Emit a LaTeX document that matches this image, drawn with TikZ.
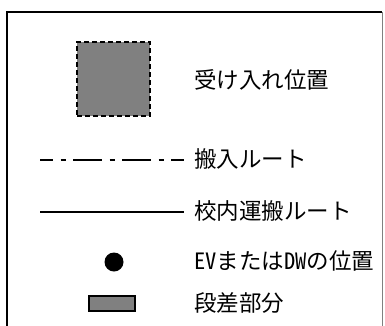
\documentclass[tikz,border=0pt]{standalone}
\usepackage{fontspec}
\setmainfont{Noto Sans CJK JP}
\usetikzlibrary{positioning}
\definecolor{boxgray}{RGB}{128,128,128}

\begin{document}
\begin{tikzpicture}[x=1pt, y=-1pt, lbl node/.style={anchor=west,inner sep=0,font=\fontsize{22.5}{26}\selectfont\addfontfeature{RawFeature=+hwid}}, sym node/.style={draw=black,line width=1.2pt,fill=boxgray,inner sep=0}, route in/.style={line width=1.2pt,dash pattern=on 29pt off 7.5pt on 5pt off 7.5pt,dash phase=16pt}, route main/.style={line width=1.2pt}, ]
		\useasboundingbox (0,0) rectangle (385,325);
		%frame
		\coordinate (fr1) at (7,330);
		\coordinate (fr2) at (7,12);
		\coordinate (fr3) at (382,12);
		\coordinate (fr4) at (382,330);
		\draw[line width=1.3pt] (fr1) -- (fr2) -- (fr3);
		\draw[gray,line width=1pt] (fr3) -- (fr4);
		\node[lbl node,anchor=base west] (title) at (30,-2){凡例};
		
		%symbols
		\node[sym node,dash pattern=on 5pt off 3pt,minimum width=73,minimum height=74] (acc) at (113.5,79){};
		\node[circle,fill=black,inner sep=0,minimum size=19] (ev) at (114,262){};
		\node[sym node,minimum width=46,minimum height=15] (stepbox) at (112,303.5){};
		\coordinate (ins) at (40,160);
		\coordinate (ine) at (184,160);
		\coordinate (mains) at (40,212);
		\coordinate (maine) at (184,212);
		\draw[route in] (ins) -- (ine);
		\draw[route main] (mains) -- (maine);
		
		%labels
		\foreach \y/\t [count=\i] in {80/受け入れ位置,159/搬入ルート,211/校内運搬ルート,261/EVまたはDWの位置,303/段差部分}
		{
			\node[lbl node] (lbl\i) at (194,\y){\t};
		}
\end{tikzpicture}
\end{document}
